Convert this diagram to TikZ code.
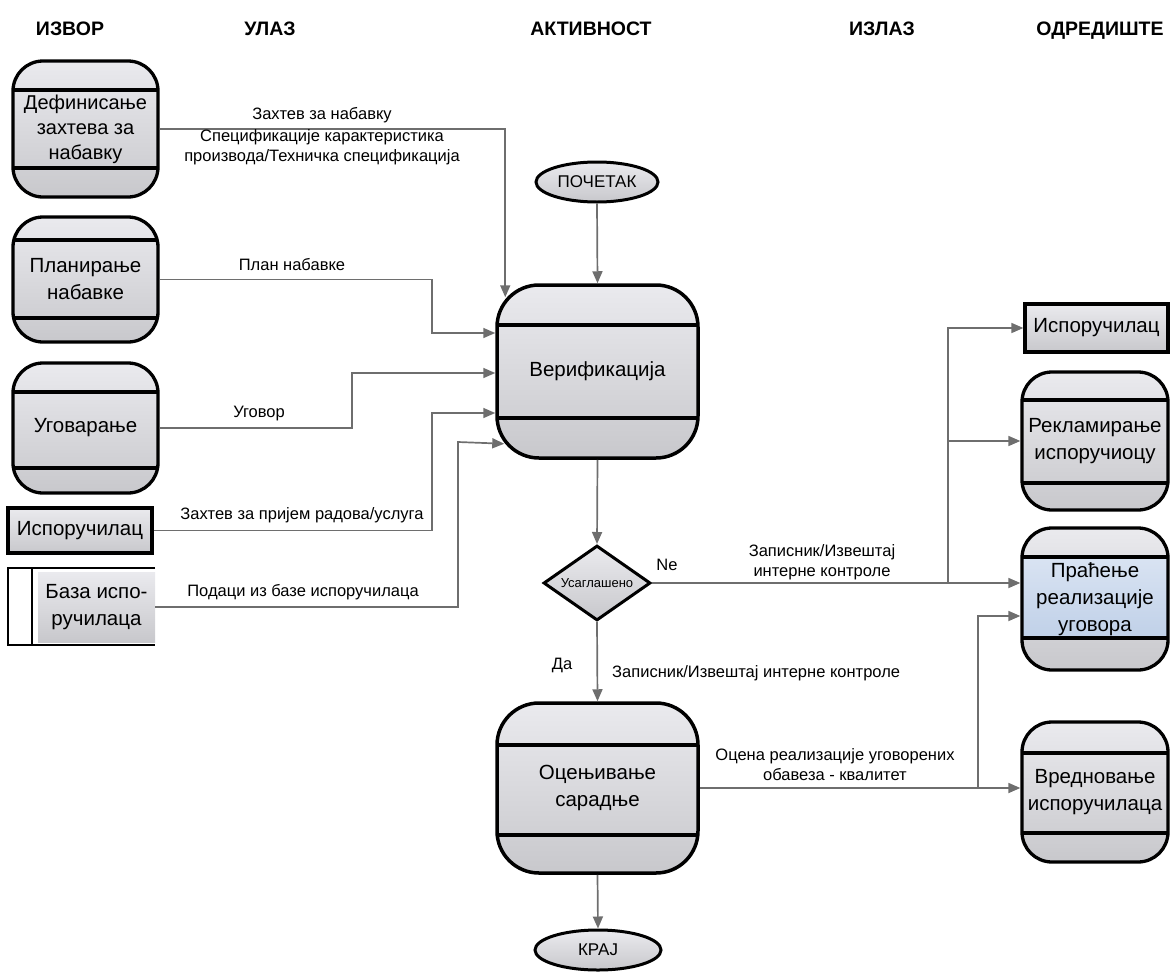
\documentclass[tikz,border=0pt]{standalone}
\usepackage{fontspec}
\setmainfont{Liberation Sans}
\usetikzlibrary{arrows.meta,shapes.geometric}
\definecolor{boxtop}{RGB}{234,234,238}
\definecolor{boxbot}{RGB}{200,200,204}
\definecolor{bluetop}{RGB}{226,234,246}
\definecolor{bluebot}{RGB}{182,201,228}
\definecolor{flowgray}{RGB}{110,110,110}
\begin{document}
\begin{tikzpicture}[x=1pt,y=-1pt,
  head/.style={font=\bfseries\fontsize{19.5}{22}\selectfont, inner sep=0pt, anchor=base},
  lbl/.style={font=\fontsize{16.5}{20}\selectfont, inner sep=0pt, align=center},
  shaded/.style={top color=boxtop, bottom color=boxbot},
  stage/.style={draw=black, line width=3.3pt, rounded corners=30pt, inner sep=0pt,
    shaded, align=center, font=\fontsize{20.5}{27}\selectfont},
  bands/.style 2 args={path picture={
    \draw[sharp corners, line width=3.3pt] ([yshift=-#1]path picture bounding box.north west)
      -- ([yshift=-#1]path picture bounding box.north east);
    \draw[sharp corners, line width=3.3pt] ([yshift=#2]path picture bounding box.south west)
      -- ([yshift=#2]path picture bounding box.south east);}},
  bluebands/.style 2 args={path picture={
    \fill[sharp corners, top color=bluetop, bottom color=bluebot]
      ([yshift=-#1]path picture bounding box.north west)
      rectangle ([yshift=#2]path picture bounding box.south east);
    \draw[sharp corners, line width=3.3pt] ([yshift=-#1]path picture bounding box.north west)
      -- ([yshift=-#1]path picture bounding box.north east);
    \draw[sharp corners, line width=3.3pt] ([yshift=#2]path picture bounding box.south west)
      -- ([yshift=#2]path picture bounding box.south east);}},
  plainbox/.style={draw=black, line width=3.3pt, inner sep=0pt, shaded,
    font=\fontsize{20.5}{27}\selectfont},
  term/.style={ellipse, draw=black, line width=3pt, inner sep=0pt, shaded,
    font=\fontsize{17}{20}\selectfont},
  flow/.style={draw=flowgray, line width=1.7pt, -{Triangle[length=12pt,width=10pt]}}
]
\useasboundingbox (0,0) rectangle (1170,972);

% column headings
\node[head] (hSrc) at (70,35) {ИЗВОР};
\node[head] (hIn)  at (270,35) {УЛАЗ};
\node[head] (hAct) at (591,35) {АКТИВНОСТ};
\node[head] (hOut) at (882,35) {ИЗЛАЗ};
\node[head] (hDst) at (1100,35) {ОДРЕДИШТЕ};

% sources
\node[stage, bands={29pt}{29pt}, minimum width=145pt, minimum height=136pt,
  font=\fontsize{20}{25}\selectfont]
  (def) at (85.5,129) {Дефинисање\\захтева за\\набавку};
\node[stage, bands={23pt}{24pt}, minimum width=145pt, minimum height=125pt]
  (plan) at (85.5,279.5) {Планирање\\набавке};
\node[stage, bands={29pt}{25pt}, minimum width=145pt, minimum height=130pt]
  (ugov) at (85.5,428) {Уговарање};
\node[plainbox, minimum width=144pt, minimum height=45pt]
  (supL) at (80,530.5) {Испоручилац};
\node[shaded, inner sep=0pt, minimum width=117pt, minimum height=70pt, align=center,
  font=\fontsize{20.5}{27}\selectfont]
  (baza) at (96.5,607) {База испо-\\ручилаца};
\draw[line width=2.6pt] (155,568) -- (8,568) -- (8,645) -- (155,645);
\draw[line width=2.6pt] (32,568) -- (32,645);

% activity
\node[term, minimum width=122pt, minimum height=40pt] (start) at (597,182) {ПОЧЕТАК};
\node[stage, rounded corners=42pt, line width=3.5pt, bands={40pt}{40pt},
  minimum width=201pt, minimum height=173pt] (ver) at (597.5,371.5) {Верификација};
\node[diamond, draw=black, line width=3pt, inner sep=0pt, aspect=1.43, shaded,
  minimum width=107pt, minimum height=75pt, font=\fontsize{13}{15}\selectfont]
  (dec) at (597,583) {Усаглашено};
\node[stage, rounded corners=42pt, line width=3.5pt, bands={42pt}{38pt},
  minimum width=201pt, minimum height=170pt] (oc) at (597.5,788) {Оцењивање\\сарадње};
\node[term, minimum width=126pt, minimum height=40pt] (stop) at (598,950) {КРАЈ};

% destinations
\node[plainbox, minimum width=143pt, minimum height=48pt]
  (supR) at (1096.5,328) {Испоручилац};
\node[stage, bands={28pt}{27pt}, minimum width=146pt, minimum height=138pt]
  (rek) at (1095,441) {Рекламирање\\испоручиоцу};
\node[stage, bluebands={29pt}{32pt}, minimum width=146pt, minimum height=142pt]
  (prat) at (1095,599) {Праћење\\реализације\\уговора};
\node[stage, bands={31pt}{29pt}, minimum width=146pt, minimum height=140pt]
  (vred) at (1095,792) {Вредновање\\испоручилаца};

% main sequence
\draw[flow] (start.south) -- (ver.north);
\draw[flow] (ver.south) -- (dec.north);
\draw[flow] (dec.south) -- (oc.north);
\draw[flow] (oc.south) -- (stop.north);

% inputs to verification
\coordinate (v1) at ([xshift=10pt,yshift=-14pt]ver.north west);
\draw[flow] (def.east) -| (v1);
\coordinate (k2) at (432,333);
\draw[flow] (plan.east) -| (k2) -- (k2 -| ver.west);
\coordinate (k3) at (352,373);
\draw[flow] (ugov.east) -| (k3) -- (k3 -| ver.west);
\coordinate (k4) at (432,413);
\draw[flow] (supL.east) -| (k4) -- (k4 -| ver.west);
\coordinate (v5) at ([xshift=9pt,yshift=16pt]ver.south west);
\coordinate (k5) at (458,442);
\draw[flow] (baza.east) -| (k5) -- (v5);

% outputs of the decision
\coordinate (m1) at (948,583);
\draw[flow] (dec.east) -- (dec.east -| prat.west);
\draw[flow] (m1) |- (supR.west);
\draw[flow] (m1 |- rek.west) -- (rek.west);

% outputs of the assessment
\coordinate (m2) at (978,788);
\coordinate (p2) at ([yshift=-17pt]prat.west);
\draw[flow] (oc.east) -- (oc.east -| vred.west);
\draw[flow] (m2) |- (p2);

% connector labels
\node[lbl] (t1) at (322,115) {Захтев за набавку};
\node[lbl] (t1b) at (322,147) {Спецификације карактеристика\\производа/Техничка спецификација};
\node[lbl] (t2) at (292,265) {План набавке};
\node[lbl] (t3) at (259,414) {Уговор};
\node[lbl] (t4) at (302,515) {Захтев за пријем радова/услуга};
\node[lbl] (t5) at (303,592) {Подаци из базе испоручилаца};
\node[lbl] (t6) at (822,562) {Записник/Извештај\\интерне контроле};
\node[lbl] (tne) at (667,565) {Ne};
\node[lbl] (tda) at (562,665) {Да};
\node[lbl, anchor=west] (t7) at (612,673) {Записник/Извештај интерне контроле};
\node[lbl] (t8) at (835,765) {Оцена реализације уговорених\\обавеза - квалитет};
\end{tikzpicture}
\end{document}
